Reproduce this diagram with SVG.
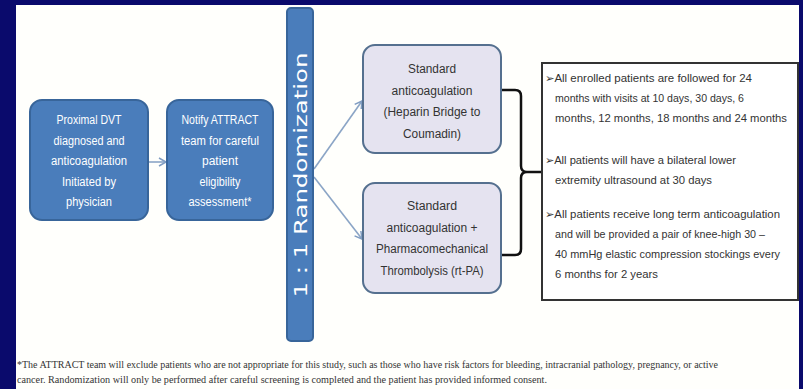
<svg xmlns="http://www.w3.org/2000/svg" width="803" height="389" viewBox="0 0 803 389">
<defs>
<marker id="ah" markerWidth="10" markerHeight="10" refX="8" refY="5" orient="auto" markerUnits="userSpaceOnUse">
<path d="M1,1 L8,5 L1,9" fill="none" stroke="#7f9cc2" stroke-width="1.5"/>
</marker>
</defs>
<style>
.blue{fill:#4a7dbb;stroke:#38659a;stroke-width:2}
.lav{fill:#e5e3f0;stroke:#55708f;stroke-width:2}
.wt{font-family:"Liberation Sans",Arial,sans-serif;font-size:12.5px;fill:#ffffff;text-anchor:middle}
.dt{font-family:"Liberation Sans",Arial,sans-serif;font-size:12.5px;fill:#333333;text-anchor:middle}
.bt{font-family:"Liberation Sans",Arial,sans-serif;font-size:11px;fill:#333333}
.fn{font-family:"Liberation Serif","Times New Roman",serif;font-size:9.5px;fill:#333333}
.conn{stroke:#8ba5c6;stroke-width:1.6;fill:none}
</style>
<rect x="0" y="0" width="803" height="389" fill="#0a0a6c"/>
<rect x="16" y="5" width="783" height="384" fill="#fffffc"/>

<g id="connectors">
<line class="conn" x1="149" y1="162" x2="166" y2="162" marker-end="url(#ah)"/>
<line class="conn" x1="314" y1="169" x2="362" y2="101" marker-end="url(#ah)"/>
<line class="conn" x1="314" y1="177" x2="362" y2="239" marker-end="url(#ah)"/>
<path d="M501,90 L515,90 Q521,90 521,96 L521,166 Q521,172 527,172 L541,172 M527,172 Q521,172 521,178 L521,249 Q521,255 515,255 L501,255" fill="none" stroke="#111111" stroke-width="2.5"/>
</g>

<g id="node-dvt">
<rect class="blue" x="30" y="100" width="118" height="120" rx="12"/>
<text class="wt" x="89" y="124" textLength="65" lengthAdjust="spacingAndGlyphs">Proximal DVT</text>
<text class="wt" x="89" y="144.5" textLength="71" lengthAdjust="spacingAndGlyphs">diagnosed and</text>
<text class="wt" x="89" y="165" textLength="76" lengthAdjust="spacingAndGlyphs">anticoagulation</text>
<text class="wt" x="89" y="185.5" textLength="54" lengthAdjust="spacingAndGlyphs">Initiated by</text>
<text class="wt" x="89" y="206" textLength="46" lengthAdjust="spacingAndGlyphs">physician</text>
</g>

<g id="node-notify">
<rect class="blue" x="167" y="100" width="106" height="120" rx="12"/>
<text class="wt" x="220" y="124" textLength="77" lengthAdjust="spacingAndGlyphs">Notify ATTRACT</text>
<text class="wt" x="220" y="144.5" textLength="78" lengthAdjust="spacingAndGlyphs">team for careful</text>
<text class="wt" x="220" y="165" textLength="36" lengthAdjust="spacingAndGlyphs">patient</text>
<text class="wt" x="220" y="185.5" textLength="41" lengthAdjust="spacingAndGlyphs">eligibility</text>
<text class="wt" x="220" y="206" textLength="63" lengthAdjust="spacingAndGlyphs">assessment*</text>
</g>

<g id="node-random">
<rect class="blue" x="287" y="8" width="26" height="333" rx="4"/>
<text x="0" y="0" transform="translate(307,175) rotate(-90)" text-anchor="middle" font-family="'DejaVu Sans',Verdana,sans-serif" font-size="17" fill="#ffffff" textLength="245" lengthAdjust="spacingAndGlyphs">1 : 1 Randomization</text>
</g>

<g id="node-standard">
<rect class="lav" x="363" y="45" width="138" height="108" rx="12"/>
<text class="dt" x="432" y="73" textLength="48" lengthAdjust="spacingAndGlyphs">Standard</text>
<text class="dt" x="432" y="94.5" textLength="81" lengthAdjust="spacingAndGlyphs">anticoagulation</text>
<text class="dt" x="432" y="116" textLength="97" lengthAdjust="spacingAndGlyphs">(Heparin Bridge to</text>
<text class="dt" x="432" y="137.5" textLength="58" lengthAdjust="spacingAndGlyphs">Coumadin)</text>
</g>

<g id="node-pmt">
<rect class="lav" x="363" y="183" width="138" height="110" rx="12"/>
<text class="dt" x="432" y="210" textLength="50" lengthAdjust="spacingAndGlyphs">Standard</text>
<text class="dt" x="432" y="231.5" textLength="91" lengthAdjust="spacingAndGlyphs">anticoagulation +</text>
<text class="dt" x="432" y="253" textLength="112" lengthAdjust="spacingAndGlyphs">Pharmacomechanical</text>
<text class="dt" x="432" y="274.5" textLength="103" lengthAdjust="spacingAndGlyphs">Thrombolysis (rt-PA)</text>
</g>

<g id="node-notes">
<rect x="542" y="63" width="256" height="237" fill="#ffffff" stroke="#333333" stroke-width="2"/>
<text class="bt" x="545" y="81.5" textLength="207" lengthAdjust="spacingAndGlyphs">➢All enrolled patients are followed for 24</text>
<text class="bt" x="555" y="101.5" textLength="189" lengthAdjust="spacingAndGlyphs">months with visits at 10 days, 30 days, 6</text>
<text class="bt" x="555" y="121.5" textLength="232" lengthAdjust="spacingAndGlyphs">months, 12 months, 18 months and 24 months</text>
<text class="bt" x="545" y="163.5" textLength="191" lengthAdjust="spacingAndGlyphs">➢All patients will have a bilateral lower</text>
<text class="bt" x="555" y="183.5" textLength="157" lengthAdjust="spacingAndGlyphs">extremity ultrasound at 30 days</text>
<text class="bt" x="545" y="217.5" textLength="235" lengthAdjust="spacingAndGlyphs">➢All patients receive long term anticoagulation</text>
<text class="bt" x="555" y="237.5" textLength="210" lengthAdjust="spacingAndGlyphs">and will be provided a pair of knee-high 30 –</text>
<text class="bt" x="555" y="257.5" textLength="225" lengthAdjust="spacingAndGlyphs">40 mmHg elastic compression stockings every</text>
<text class="bt" x="555" y="277.5" textLength="103" lengthAdjust="spacingAndGlyphs">6 months for 2 years</text>
</g>

<text class="fn" x="17" y="368" textLength="701" lengthAdjust="spacingAndGlyphs">*The ATTRACT team will exclude patients who are not appropriate for this study, such as those who have risk factors for bleeding, intracranial pathology, pregnancy, or active</text>
<text class="fn" x="17" y="383" textLength="530" lengthAdjust="spacingAndGlyphs">cancer.  Randomization will only be performed after careful screening is completed and the patient has provided informed consent.</text>
</svg>
